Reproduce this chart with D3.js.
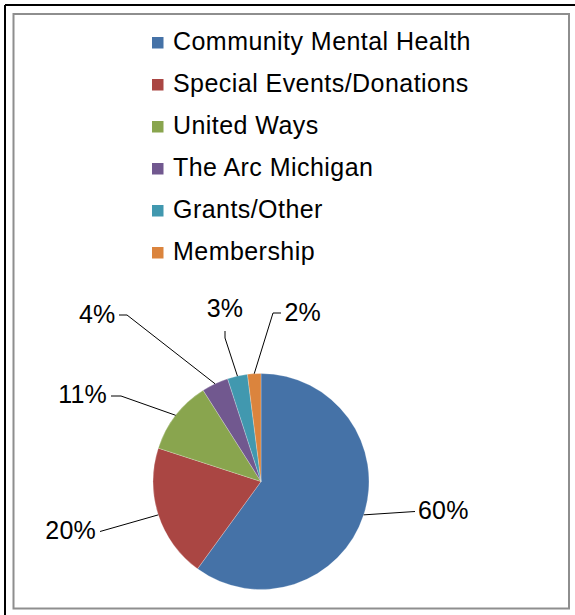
<!DOCTYPE html>
<html>
<head>
<meta charset="utf-8">
<script src="https://cdn.jsdelivr.net/npm/d3@7"></script>
<style>
  html, body { margin: 0; padding: 0; background: #fff; }
  svg { display: block; }
  text { font-family: "Liberation Sans", Arial, sans-serif; fill: #000; }
</style>
</head>
<body>
<svg id="chart" width="575" height="615"></svg>
<script>
// ---- data ----
const categories = ["Community Mental Health", "Special Events/Donations", "United Ways", "The Arc Michigan", "Grants/Other", "Membership"];
const values = [60, 20, 11, 4, 3, 2];
const labels = ["60%", "20%", "11%", "4%", "3%", "2%"];
const colors = ["#4572A7", "#AA4643", "#89A54E", "#71588F", "#4198AF", "#DB843D"];

// ---- layout (label anchor boxes) ----
const labelLayout = [
  { bend: null,         end: [415, 511.5], tx: 418,   ty: 519, anchor: "start" },
  { bend: null,         end: [100, 531.5], tx: 96,    ty: 538.5, anchor: "end" },
  { bend: [121, 396],   end: [111, 396],   tx: 107,   ty: 403, anchor: "end" },
  { bend: [127, 315],   end: [119, 315],   tx: 115.5, ty: 323, anchor: "end" },
  { bend: [225, 338],   end: [225, 331],   tx: 225,   ty: 317, anchor: "middle" },
  { bend: [273, 313],   end: [281, 313],   tx: 284.5, ty: 321, anchor: "start" }
];

const svg = d3.select("#chart");
const W = 575, H = 615;
const fontSize = 25;

// outer frame (top + left black edges)
svg.append("line").attr("x1", 5).attr("y1", 5).attr("x2", W).attr("y2", 5)
  .attr("stroke", "#000").attr("stroke-width", 2);
svg.append("line").attr("x1", 5).attr("y1", 5).attr("x2", 5).attr("y2", H)
  .attr("stroke", "#000").attr("stroke-width", 2);
// inner chart area border
svg.append("rect").attr("x", 13.5).attr("y", 14).attr("width", 555.5).attr("height", 594.5)
  .attr("fill", "#fff").attr("stroke", "#8E8E8E").attr("stroke-width", 2);

// legend
const legendY = d3.scalePoint().domain(categories).range([49.5, 259.5]);
const legend = svg.append("g");
const items = legend.selectAll("g").data(categories).join("g")
  .attr("transform", d => `translate(0, ${legendY(d)})`);
items.append("rect").attr("x", 152).attr("y", -12.5).attr("width", 11.5).attr("height", 11.5)
  .attr("fill", (d, i) => colors[i]);
items.append("text").attr("x", 173).attr("y", 0)
  .attr("font-size", fontSize).attr("letter-spacing", "0.45px").text(d => d);

// pie
const cx = 261, cy = 481.5, r = 108;
const pie = d3.pie().sort(null).value(d => d)(values);
const arc = d3.arc().innerRadius(0).outerRadius(r);
const g = svg.append("g").attr("transform", `translate(${cx},${cy})`);
g.selectAll("path").data(pie).join("path")
  .attr("d", arc)
  .attr("fill", (d, i) => colors[i])
  .attr("stroke", "#fff").attr("stroke-width", 0.4).attr("stroke-opacity", 0.6);

// leader lines + labels
const edge = d3.arc().innerRadius(r).outerRadius(r);
pie.forEach((d, i) => {
  const L = labelLayout[i];
  const c = edge.centroid(d);
  const p0 = [cx + c[0], cy + c[1]];
  const pts = [p0];
  if (L.bend) pts.push(L.bend);
  pts.push(L.end);
  svg.append("path")
    .attr("d", d3.line()(pts))
    .attr("fill", "none").attr("stroke", "#000").attr("stroke-width", 1);
  svg.append("text").attr("x", L.tx).attr("y", L.ty)
    .attr("text-anchor", L.anchor).attr("font-size", fontSize)
    .attr("letter-spacing", "0.2px")
    .text(labels[i]);
});
</script>
</body>
</html>
